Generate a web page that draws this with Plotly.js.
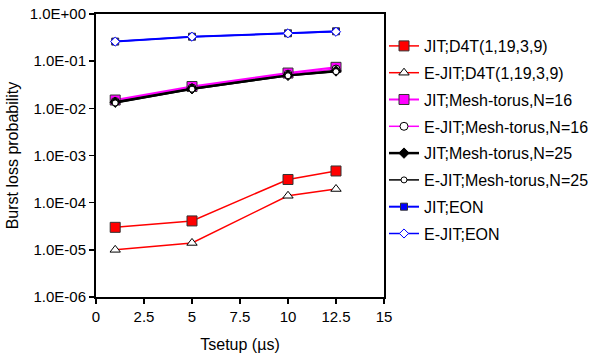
<!DOCTYPE html>
<html>
<head>
<meta charset="utf-8">
<script src="https://cdn.plot.ly/plotly-3.0.1.min.js"></script>
<style>html,body{margin:0;padding:0;background:#fff}#chart{width:600px;height:358px}</style>
</head>
<body>
<div id="chart"></div>
<script>
var tsetup = [1, 5, 10, 12.5];
var jitD4T = [3.0e-5, 4.1e-5, 3.1e-4, 4.7e-4];
var ejitD4T = [1.0e-5, 1.4e-5, 1.4e-4, 1.95e-4];
var jitMesh16 = [0.015, 0.029, 0.056, 0.074];
var ejitMesh16 = [0.014, 0.027, 0.053, 0.068];
var jitMesh25 = [0.0135, 0.026, 0.050, 0.062];
var ejitMesh25 = [0.013, 0.0255, 0.049, 0.060];
var jitEON = [0.26, 0.33, 0.39, 0.43];
var ejitEON = [0.26, 0.33, 0.39, 0.42];
var seriesNames = ['JIT;D4T(1,19,3,9)', 'E-JIT;D4T(1,19,3,9)', 'JIT;Mesh-torus,N=16', 'E-JIT;Mesh-torus,N=16',
  'JIT;Mesh-torus,N=25', 'E-JIT;Mesh-torus,N=25', 'JIT;EON', 'E-JIT;EON'];
var yTickVals = [1e-6, 1e-5, 1e-4, 1e-3, 1e-2, 1e-1, 1];
var yTickText = ['1.0E-06', '1.0E-05', '1.0E-04', '1.0E-03', '1.0E-02', '1.0E-01', '1.0E+00'];
var xTickVals = [0, 2.5, 5, 7.5, 10, 12.5, 15];
var xTickText = ['0', '2.5', '5', '7.5', '10', '12.5', '15'];

var allY = [jitD4T, ejitD4T, jitMesh16, ejitMesh16, jitMesh25, ejitMesh25, jitEON, ejitEON];
var styles = [
  {lc: '#FF0000', lw: 1.5, sym: 'square', ms: 10, mc: '#FF0000', ml: '#333333', mlw: 1},
  {lc: '#FF0000', lw: 1.5, sym: 'triangle-up', ms: 9, mc: '#FFFFFF', ml: '#000000', mlw: 1},
  {lc: '#FF00FF', lw: 2, sym: 'square', ms: 10, mc: '#FF00FF', ml: '#333333', mlw: 1},
  {lc: '#FF00FF', lw: 1.5, sym: 'circle', ms: 8, mc: '#FFFFFF', ml: '#000000', mlw: 1},
  {lc: '#000000', lw: 2.5, sym: 'diamond', ms: 8, mc: '#000000', ml: '#000000', mlw: 1},
  {lc: '#000000', lw: 1.5, sym: 'circle', ms: 6, mc: '#FFFFFF', ml: '#000000', mlw: 1},
  {lc: '#0000FF', lw: 2, sym: 'square', ms: 7, mc: '#0000FF', ml: '#333333', mlw: 1},
  {lc: '#0000FF', lw: 1.5, sym: 'diamond', ms: 7, mc: '#FFFFFF', ml: '#0000FF', mlw: 1}
];
var traces = allY.map(function (ys, i) {
  var s = styles[i];
  return {
    x: tsetup, y: ys, name: seriesNames[i], type: 'scatter', mode: 'lines+markers',
    legendgroup: 'g' + i,
    line: {color: s.lc, width: s.lw},
    marker: {symbol: s.sym, size: s.ms, color: s.mc, line: {color: s.ml, width: s.mlw}}
  };
});

var font = {family: 'Liberation Sans, Arial, sans-serif', size: 15, color: '#000'};
var layout = {
  width: 600, height: 358,
  margin: {l: 96, r: 216, t: 14, b: 61},
  paper_bgcolor: '#fff', plot_bgcolor: '#fff',
  font: font,
  showlegend: true,
  legend: {xref: 'container', yref: 'container', x: 0.64, xanchor: 'left', y: 0.919, yanchor: 'top',
    tracegroupgap: 3, maxheight: 340,
    font: {family: 'Liberation Sans, Arial, sans-serif', size: 16, color: '#000'},
    bgcolor: 'rgba(0,0,0,0)', itemwidth: 30},
  xaxis: {
    range: [0, 15], tickmode: 'array', tickvals: xTickVals, ticktext: xTickText,
    showgrid: false, zeroline: false, showline: true, linecolor: '#000', linewidth: 2, mirror: true,
    ticks: 'outside', ticklen: 5, tickcolor: '#000', tickwidth: 1.5,
    title: {text: 'Tsetup (µs)', font: {size: 16}, standoff: 15}
  },
  yaxis: {
    type: 'log', range: [-6, 0], tickmode: 'array', tickvals: yTickVals, ticktext: yTickText,
    showgrid: false, zeroline: false, showline: true, linecolor: '#000', linewidth: 2, mirror: true,
    ticks: 'outside', ticklen: 5, tickcolor: '#000', tickwidth: 1.5,
    title: {text: 'Burst loss probability', font: {size: 16}, standoff: 7}
  }
};
Plotly.newPlot('chart', traces, layout, {displayModeBar: false, staticPlot: true});
</script>
</body>
</html>
